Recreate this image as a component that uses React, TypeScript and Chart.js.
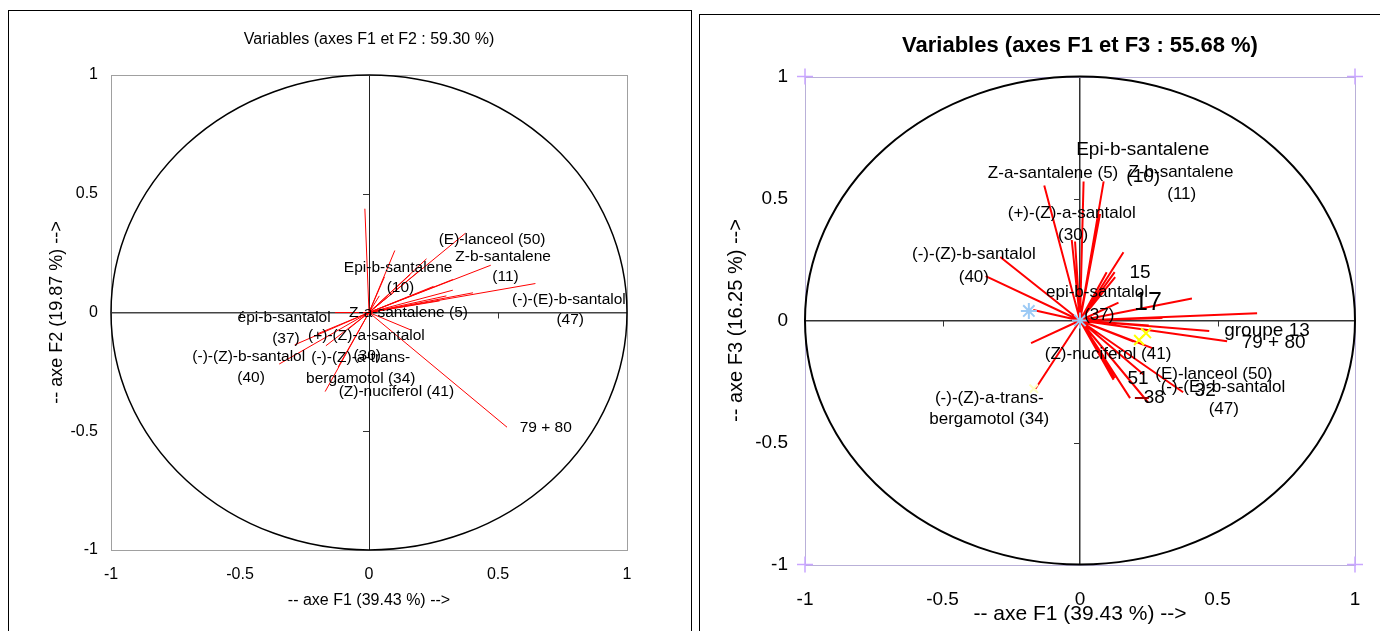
import React, { useEffect, useRef } from "react";
import { Chart, registerables } from "chart.js";

Chart.register(...registerables);

const FONT = "'Liberation Sans', Arial, sans-serif";

// ---------- Left chart : F1 vs F2 ----------
const leftTitle = "Variables (axes F1 et F2 : 59.30 %)";
const leftXTitle = "-- axe F1 (39.43 %) -->";
const leftYTitle = "-- axe F2 (19.87 %) -->";
const leftF1 = [-0.016, 0.1, 0.223, 0.374, 0.472, 0.645, 0.325, 0.325, 0.403, 0.274, 0.16, 0.06, 0.2, 0.25, 0.535, 0.161, -0.132, -0.288, -0.348, -0.167, -0.17, -0.12, -0.08, 0.04, 0.3, -0.2];
const leftF2 = [0.437, 0.261, 0.226, 0.334, 0.199, 0.122, 0.139, 0.094, 0.083, 0.049, 0.16, 0.15, 0.18, 0.11, -0.483, -0.073, 0.0, -0.136, -0.217, -0.14, -0.333, -0.23, -0.07, 0.07, 0.07, -0.09];
const leftLabels = [
  "(E)-lanceol (50)", "Z-b-santalene", "(11)", "(-)-(E)-b-santalol", "(47)",
  "Epi-b-santalene", "(10)", "Z-a-santalene (5)", "épi-b-santalol", "(37)",
  "(+)-(Z)-a-santalol", "(30)", "(-)-(Z)-b-santalol", "(40)", "(-)-(Z)-a-trans-",
  "bergamotol (34)", "(Z)-nuciferol (41)", "79 + 80",
];
const leftLabelF1 = [0.477, 0.52, 0.529, 0.775, 0.78, 0.113, 0.122, 0.153, -0.329, -0.322, -0.01, -0.007, -0.466, -0.457, -0.032, -0.032, 0.106, 0.685];
const leftLabelF2 = [0.306, 0.234, 0.149, 0.054, -0.03, 0.19, 0.106, 0.0, -0.024, -0.11, -0.098, -0.183, -0.186, -0.276, -0.191, -0.28, -0.335, -0.487];

// ---------- Right chart : F1 vs F3 ----------
const rightTitle = "Variables (axes F1 et F3 : 55.68 %)";
const rightXTitle = "-- axe F1 (39.43 %) -->";
const rightYTitle = "-- axe F3 (16.25 %) -->";
const rightF1 = [-0.13, 0.013, 0.086, -0.018, -0.03, 0.073, 0.06, 0.158, 0.126, 0.097, 0.128, -0.29, -0.343, -0.17, -0.178, -0.162, 0.407, 0.644, 0.14, 0.47, 0.535, 0.263, 0.195, 0.126, 0.182, 0.247, 0.375, 0.23, 0.086, 0.122, 0.3, 0.25];
const rightF3 = [0.553, 0.57, 0.57, 0.324, 0.33, 0.437, 0.37, 0.28, 0.198, 0.198, 0.178, 0.26, 0.182, 0.043, -0.093, -0.28, 0.09, 0.03, 0.073, -0.043, -0.085, -0.113, -0.086, -0.237, -0.318, -0.335, -0.294, -0.22, -0.148, -0.243, 0.01, -0.02];
const rightLabels = [
  "Epi-b-santalene", "(10)", "Z-a-santalene (5)", "Z-b-santalene", "(11)",
  "(+)-(Z)-a-santalol", "(30)", "(-)-(Z)-b-santalol", "(40)", "15", "17",
  "epi-b-santalol", "(37)", "groupe 13", "79 + 80", "(Z)-nuciferol (41)", "51",
  "(E)-lanceol (50)", "(-)-(E)-b-santalol", "32", "(47)", "38",
  "(-)-(Z)-a-trans-", "bergamotol (34)",
];
const rightLabelF1 = [0.228, 0.23, -0.098, 0.367, 0.37, -0.03, -0.025, -0.386, -0.386, 0.218, 0.247, 0.062, 0.07, 0.68, 0.704, 0.102, 0.211, 0.487, 0.52, 0.455, 0.523, 0.27, -0.33, -0.33];
const rightLabelF3 = [0.698, 0.59, 0.603, 0.608, 0.517, 0.44, 0.35, 0.27, 0.177, 0.194, 0.072, 0.117, 0.022, -0.043, -0.09, -0.137, -0.238, -0.222, -0.273, -0.29, -0.366, -0.317, -0.317, -0.406];

// observation markers (right chart)
const blueStarF1 = [0, -0.186];
const blueStarF3 = [0, 0.039];
const yellowXF1 = [0.215, 0.24];
const yellowXF3 = [-0.08, -0.052];
const paleXF1 = [-0.168];
const paleXF3 = [-0.28];
const darkRedF1 = [0.225];
const darkRedF3 = [-0.318];
const cornerF1 = [-1, 1, -1, 1];
const cornerF3 = [1, 1, -1, -1];

// axis tick labels
const tickValues = [-1, -0.5, 0, 0.5, 1];
const tickLabels = ["-1", "-0.5", "0", "0.5", "1"];
const tickText = (v: number) => {
  const i = tickValues.findIndex((t) => Math.abs(t - v) < 1e-9);
  return i >= 0 ? tickLabels[i] : "";
};

// style: label sizes for the right chart (larger labels)
const RIGHT_LABEL_SIZE: Record<string, number> = {
  "Epi-b-santalene": 19, "(10)": 19, "15": 19, "17": 25, "groupe 13": 19,
  "79 + 80": 19, "51": 19, "32": 19, "38": 19,
};

function vectorPoints(xs: number[], ys: number[]) {
  const out: any[] = [];
  xs.forEach((x, i) => {
    out.push({ x: 0, y: 0 }, { x, y: ys[i] }, { x: 0, y: null });
  });
  return out;
}
function pts(xs: number[], ys: number[]) {
  return xs.map((x, i) => ({ x, y: ys[i] }));
}

function makeDecor(opts: {
  frame: string; circleWidth: number; labels: string[]; lx: number[]; ly: number[];
  labelSize: (t: string) => number;
}) {
  return {
    id: "decor",
    beforeDatasetsDraw(chart: any) {
      const { ctx, chartArea: a, scales } = chart;
      const xs = scales.x, ys = scales.y;
      ctx.save();
      ctx.strokeStyle = opts.frame;
      ctx.lineWidth = 1;
      ctx.strokeRect(Math.round(a.left) + 0.5, Math.round(a.top) + 0.5, Math.round(a.right - a.left), Math.round(a.bottom - a.top));
      const cx = xs.getPixelForValue(0), cy = ys.getPixelForValue(0);
      const rx = xs.getPixelForValue(1) - cx, ry = cy - ys.getPixelForValue(1);
      ctx.strokeStyle = "#000";
      ctx.lineWidth = opts.circleWidth;
      ctx.beginPath();
      ctx.ellipse(cx, cy, rx, ry, 0, 0, Math.PI * 2);
      ctx.stroke();
      ctx.lineWidth = 1;
      ctx.strokeStyle = "#333";
      xs.ticks.forEach((t: any) => {
        if (t.value === 0 || Math.abs(t.value) === 1) return;
        const px = Math.round(xs.getPixelForValue(t.value)) + 0.5;
        ctx.beginPath(); ctx.moveTo(px, cy); ctx.lineTo(px, cy + 6); ctx.stroke();
      });
      ys.ticks.forEach((t: any) => {
        if (t.value === 0 || Math.abs(t.value) === 1) return;
        const py = Math.round(ys.getPixelForValue(t.value)) + 0.5;
        ctx.beginPath(); ctx.moveTo(cx - 6, py); ctx.lineTo(cx, py); ctx.stroke();
      });
      ctx.restore();
    },
    afterDatasetsDraw(chart: any) {
      const { ctx, scales } = chart;
      ctx.save();
      ctx.fillStyle = "#000";
      ctx.textAlign = "center";
      ctx.textBaseline = "middle";
      opts.labels.forEach((t, i) => {
        ctx.font = `${opts.labelSize(t)}px ${FONT}`;
        ctx.fillText(t, scales.x.getPixelForValue(opts.lx[i]), scales.y.getPixelForValue(opts.ly[i]));
      });
      ctx.restore();
    },
  };
}

const zeroOnly = (c: string) => (ctx: any) => (ctx.tick && ctx.tick.value === 0 ? c : "rgba(0,0,0,0)");
const fixX = (h: number) => (s: any) => { s.height = h; s.paddingLeft = 0; s.paddingRight = 0; };
const fixY = (w: number) => (s: any) => { s.width = w; s.paddingTop = 0; s.paddingBottom = 0; };

function leftConfig(): any {
  return {
    type: "scatter",
    data: {
      datasets: [
        { data: vectorPoints(leftF1, leftF2), showLine: true, borderColor: "#ff0000", borderWidth: 1, pointRadius: 0, spanGaps: false },
      ],
    },
    options: {
      responsive: false, animation: false, events: [],
      layout: { padding: { left: 0, right: 64, top: 0, bottom: 11 } },
      plugins: {
        legend: { display: false }, tooltip: { enabled: false },
        title: { display: true, text: leftTitle, fullSize: false, color: "#000", font: { family: FONT, size: 16, weight: "normal" }, padding: { top: 19.4, bottom: 25.4 } },
      },
      scales: {
        x: {
          type: "linear", min: -1, max: 1,
          ticks: { stepSize: 0.5, color: "#000", font: { family: FONT, size: 16 }, padding: 15, maxRotation: 0, callback: tickText },
          grid: { drawTicks: false, color: zeroOnly("#222"), lineWidth: 1 },
          border: { display: false },
          title: { display: true, text: leftXTitle, color: "#000", font: { family: FONT, size: 16 }, padding: { top: 0, bottom: 9.4 } },
          afterFit: fixX(70),
        },
        y: {
          type: "linear", min: -1, max: 1,
          ticks: { stepSize: 0.5, color: "#000", font: { family: FONT, size: 16 }, padding: 13, callback: tickText },
          grid: { drawTicks: false, color: zeroOnly("#444"), lineWidth: 1.5 },
          border: { display: false },
          title: { display: true, text: leftYTitle, color: "#000", font: { family: FONT, size: 18 }, padding: { top: 37, bottom: 0 } },
          afterFit: fixY(102),
        },
      },
    },
    plugins: [makeDecor({ frame: "#a0a0a0", circleWidth: 1.5, labels: leftLabels, lx: leftLabelF1, ly: leftLabelF2, labelSize: () => 15.5 })],
  };
}

function rightConfig(): any {
  return {
    type: "scatter",
    data: {
      datasets: [
        { data: pts(blueStarF1, blueStarF3), pointStyle: "star", pointRadius: 8, borderColor: "#9ccaf5", borderWidth: 2, order: 0 },
        { data: pts(yellowXF1, yellowXF3), pointStyle: "crossRot", pointRadius: 7, borderColor: "#ffff00", borderWidth: 2, order: 0 },
        { data: pts(paleXF1, paleXF3), pointStyle: "crossRot", pointRadius: 6, borderColor: "#ffffc0", borderWidth: 2, order: 0 },
        { data: pts(darkRedF1, darkRedF3), pointStyle: "line", pointRadius: 7, borderColor: "#a00000", borderWidth: 2, order: 0 },
        { data: pts(cornerF1, cornerF3), pointStyle: "cross", pointRadius: 8, borderColor: "#c9a6ff", borderWidth: 1.5, order: 0, clip: false },
        { data: vectorPoints(rightF1, rightF3), showLine: true, borderColor: "#ff0000", borderWidth: 2, pointRadius: 0, spanGaps: false, order: 10 },
      ],
    },
    options: {
      responsive: false, animation: false, events: [],
      layout: { padding: { left: 0, right: 25, top: 0, bottom: 0 } },
      plugins: {
        legend: { display: false }, tooltip: { enabled: false },
        title: { display: true, text: rightTitle, fullSize: false, color: "#000", font: { family: FONT, size: 22, weight: "bold" }, padding: { top: 17.8, bottom: 17.3 } },
      },
      scales: {
        x: {
          type: "linear", min: -1, max: 1,
          ticks: { stepSize: 0.5, color: "#000", font: { family: FONT, size: 19 }, padding: 23.5, maxRotation: 0, callback: tickText },
          grid: { drawTicks: false, color: zeroOnly("#333"), lineWidth: 1.5 },
          border: { display: false },
          title: { display: true, text: rightXTitle, color: "#000", font: { family: FONT, size: 21 }, padding: { top: 0, bottom: 3.9 } },
          afterFit: fixX(66.5),
        },
        y: {
          type: "linear", min: -1, max: 1,
          ticks: { stepSize: 0.5, color: "#000", font: { family: FONT, size: 19 }, padding: 17, callback: tickText },
          grid: { drawTicks: false, color: zeroOnly("#333"), lineWidth: 1.5 },
          border: { display: false },
          title: { display: true, text: rightYTitle, color: "#000", font: { family: FONT, size: 20 }, padding: { top: 24, bottom: 0 } },
          afterFit: fixY(105),
        },
      },
    },
    plugins: [makeDecor({ frame: "#b9b0d8", circleWidth: 2, labels: rightLabels, lx: rightLabelF1, ly: rightLabelF3, labelSize: (t) => RIGHT_LABEL_SIZE[t] || 17 })],
  };
}

function ChartCanvas({ width, height, build }: { width: number; height: number; build: () => any }) {
  const ref = useRef<HTMLCanvasElement | null>(null);
  useEffect(() => {
    if (!ref.current) return;
    const chart = new Chart(ref.current, build());
    return () => chart.destroy();
  }, []);
  return <canvas ref={ref} width={width} height={height} style={{ position: "absolute", left: 0, top: 0, width, height }} />;
}

export default function App() {
  return (
    <div style={{ position: "fixed", left: 0, top: 0, width: 1380, height: 631, background: "#fff", overflow: "hidden" }}>
      <div style={{ position: "absolute", left: 8, top: 10, width: 684, height: 660, border: "1px solid #000", boxSizing: "border-box" }}>
        <ChartCanvas width={682} height={620} build={leftConfig} />
      </div>
      <div style={{ position: "absolute", left: 699, top: 14, width: 720, height: 660, border: "1px solid #000", boxSizing: "border-box" }}>
        <ChartCanvas width={680} height={616} build={rightConfig} />
      </div>
    </div>
  );
}
